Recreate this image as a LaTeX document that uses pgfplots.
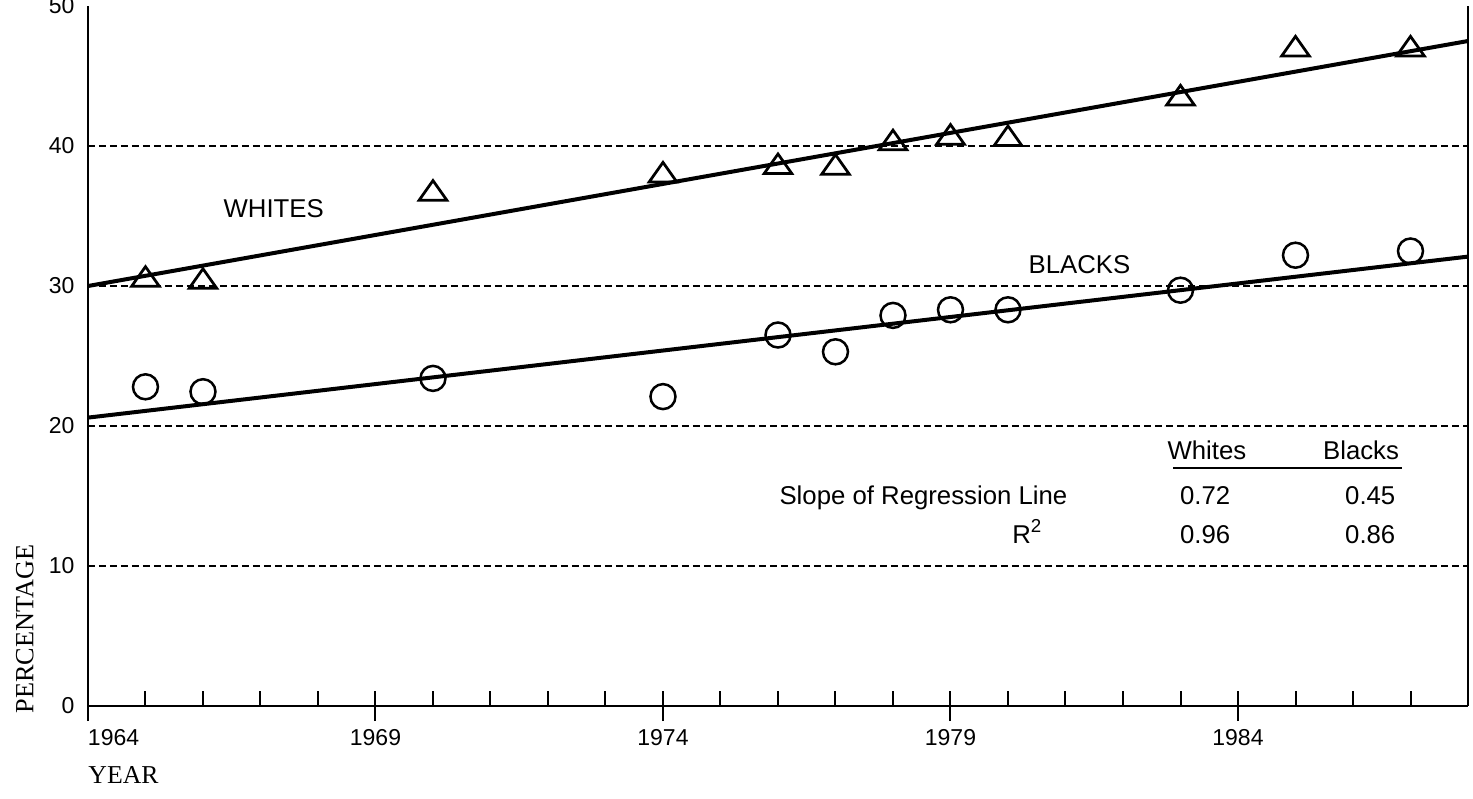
\documentclass[border=0pt]{standalone}
\usepackage{pgfplots}
\pgfplotsset{compat=1.18}
\usepackage{fontspec}
\setmainfont{Liberation Sans}
\newfontfamily\seriffont{Liberation Serif}
\newcommand{\annot}{\fontsize{10.3}{12}\selectfont}

\begin{document}
\begin{tikzpicture}
\begin{axis}[
  scale only axis,
  width=552pt, height=280pt,
  xmin=1964, xmax=1988, ymin=0, ymax=50,
  axis x line*=bottom, axis y line*=box,
  axis line style={-, line width=0.9pt},
  /pgf/number format/assume math mode=true,
  tick align=inside,
  xtick={1964,1969,1974,1979,1984},
  xticklabels={\makebox[0pt][l]{1964},1969,1974,1979,1984},
  minor xtick={1965,1966,1967,1968,1970,1971,1972,1973,1975,1976,1977,1978,1980,1981,1982,1983,1985,1986,1987},
  major tick length=12pt, minor tick length=6pt,
  every major x tick/.append style={yshift=-6pt, line width=0.8pt, black},
  every minor x tick/.append style={line width=0.8pt, black},
  ytick={0,10,20,30,40},
  yticklabels={0,10,20,30,40},
  extra y ticks={50}, extra y tick labels={50},
  extra y tick style={grid=none},
  every y tick/.append style={draw=none},
  ymajorgrids,
  major grid style={black, line width=0.5pt, dash pattern=on 2.8pt off 1.6pt},
  xticklabel style={anchor=north, inner sep=0pt, yshift=-9.2pt, font=\fontsize{9.2}{11}\selectfont},
  yticklabel style={anchor=east, inner sep=0pt, xshift=-5.2pt, font=\fontsize{9.2}{11}\selectfont},
  clip=false,
]
% regression lines
\addplot[black, line width=1.6pt] coordinates {(1964,30.0) (1988,47.5)};
\addplot[black, line width=1.6pt] coordinates {(1964,20.6) (1988,32.1)};
% Whites
\addplot[only marks, mark=triangle, mark size=5.8pt,
  mark options={xscale=1.1, yscale=0.9, line width=1.1pt, black, solid}]
  coordinates {
  (1965,30.45) (1966,30.3) (1970,36.6) (1974,37.9) (1976,38.5) (1977,38.45)
  (1978,40.2) (1979,40.6) (1980,40.5) (1983,43.4) (1985,46.9) (1987,46.9)};
% Blacks
\addplot[only marks, mark=o, mark size=5pt,
  mark options={line width=1pt, black, solid}]
  coordinates {
  (1965,22.8) (1966,22.45) (1970,23.4) (1974,22.1) (1976,26.5) (1977,25.3)
  (1978,27.9) (1979,28.3) (1980,28.3) (1983,29.7) (1985,32.2) (1987,32.5)};

\node[anchor=west, inner sep=0pt, font=\annot] at (axis cs:1966.35,35.5) {WHITES};
\node[anchor=west, inner sep=0pt, font=\annot] at (axis cs:1980.35,31.5) {BLACKS};
\node[anchor=base, inner sep=0pt, font=\annot] at (axis cs:1983.46,17.64) {Whites};
\node[anchor=base, inner sep=0pt, font=\annot] at (axis cs:1986.14,17.64) {Blacks};
\draw[black, line width=0.7pt] (axis cs:1982.87,17.0) -- (axis cs:1986.85,17.0);
\node[anchor=base east, inner sep=0pt, font=\annot] at (axis cs:1981.04,14.36) {Slope of Regression Line};
\node[anchor=base, inner sep=0pt, font=\annot] at (axis cs:1983.43,14.36) {0.72};
\node[anchor=base, inner sep=0pt, font=\annot] at (axis cs:1986.3,14.36) {0.45};
\node[anchor=base east, inner sep=0pt, font=\annot] at (axis cs:1980.59,11.64) {R\raisebox{0.42em}{\fontsize{7.5}{8}\selectfont 2}};
\node[anchor=base, inner sep=0pt, font=\annot] at (axis cs:1983.43,11.64) {0.96};
\node[anchor=base, inner sep=0pt, font=\annot] at (axis cs:1986.3,11.64) {0.86};

\node[rotate=90, inner sep=0pt, font=\seriffont\fontsize{10.5}{12}\selectfont] at (axis cs:1962.9,5.5) {PERCENTAGE};
\node[anchor=base west, inner sep=0pt, font=\seriffont\fontsize{10.3}{12}\selectfont] at (axis cs:1964,-5.5) {YEAR};

\coordinate (bbA) at (axis cs:1962.470,-6.571);
\coordinate (bbB) at (axis cs:1988.087,50.43);
\end{axis}
\pgfresetboundingbox
\path[use as bounding box] (bbA) rectangle (bbB);
\end{tikzpicture}
\end{document}
